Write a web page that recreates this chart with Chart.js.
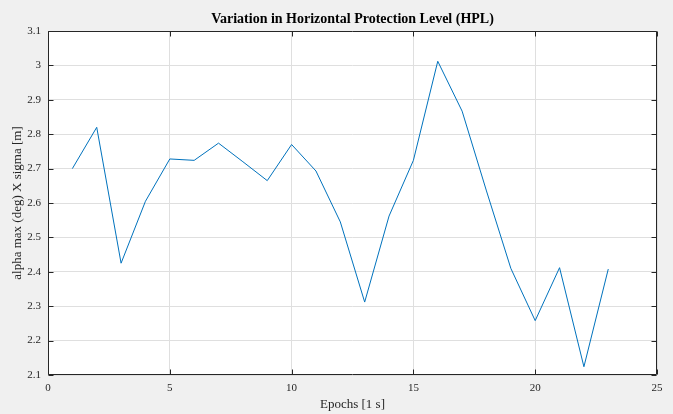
<!DOCTYPE html>
<html>
<head>
<meta charset="utf-8">
<script src="https://cdn.jsdelivr.net/npm/chart.js@4/dist/chart.umd.min.js"></script>
<style>
  html, body { margin: 0; padding: 0; background: #f0f0f0; }
  #wrap { width: 673px; height: 414px; }
</style>
</head>
<body>
<div id="wrap"><canvas id="c" width="673" height="414"></canvas></div>
<script>
const epochs = [1,2,3,4,5,6,7,8,9,10,11,12,13,14,15,16,17,18,19,20,21,22,23];
const hpl = [2.70, 2.82, 2.425, 2.605, 2.728, 2.724, 2.774, 2.72, 2.665, 2.77, 2.693, 2.545, 2.312, 2.562, 2.724, 3.012, 2.867, 2.635, 2.41, 2.258, 2.412, 2.124, 2.408];
const xTicks = [0, 5, 10, 15, 20, 25];
const yTicks = [2.1, 2.2, 2.3, 2.4, 2.5, 2.6, 2.7, 2.8, 2.9, 3.0, 3.1];
const titleText = 'Variation in Horizontal Protection Level (HPL)';
const xLabel = 'Epochs [1 s]';
const yLabel = 'alpha max (deg) X sigma [m]';

const axisColor = '#262626';
const serif = '"Liberation Serif", "Times New Roman", serif';

const frame = {
  id: 'frame',
  beforeDraw(chart) {
    const {ctx, chartArea: a} = chart;
    ctx.save();
    ctx.fillStyle = '#f0f0f0';
    ctx.fillRect(0, 0, chart.width, chart.height);
    ctx.fillStyle = '#ffffff';
    ctx.fillRect(a.left, a.top, a.right - a.left, a.bottom - a.top);
    ctx.restore();
  },
  afterDraw(chart) {
    const {ctx, chartArea: a, scales} = chart;
    ctx.save();
    ctx.strokeStyle = axisColor;
    ctx.lineWidth = 1;
    ctx.beginPath();
    const L = Math.round(a.left) + 0.5, R = Math.round(a.right) - 0.5;
    const T = Math.round(a.top) + 0.5, B = Math.round(a.bottom) - 0.5;
    ctx.rect(L, T, R - L, B - T);
    const tl = 5;
    scales.x.ticks.forEach(t => {
      const px = Math.round(scales.x.getPixelForValue(t.value)) + 0.5;
      ctx.moveTo(px, B); ctx.lineTo(px, B - tl);
      ctx.moveTo(px, T); ctx.lineTo(px, T + tl);
    });
    scales.y.ticks.forEach(t => {
      const py = Math.round(scales.y.getPixelForValue(t.value)) + 0.5;
      ctx.moveTo(L, py); ctx.lineTo(L + tl, py);
      ctx.moveTo(R, py); ctx.lineTo(R - tl, py);
    });
    ctx.stroke();
    ctx.restore();
  }
};

new Chart(document.getElementById('c'), {
  type: 'line',
  data: {
    datasets: [{
      data: epochs.map((e, i) => ({x: e, y: hpl[i]})),
      borderColor: '#0072bd',
      borderWidth: 1,
      pointRadius: 0,
      tension: 0,
      fill: false
    }]
  },
  options: {
    responsive: false,
    animation: false,
    devicePixelRatio: 1,
    layout: { padding: { left: 0, right: 16, top: 0, bottom: 0 } },
    plugins: {
      legend: { display: false },
      tooltip: { enabled: false },
      title: { display: false }
    },
    scales: {
      x: {
        type: 'linear',
        min: 0, max: 25,
        afterBuildTicks(s) { s.ticks = xTicks.map(v => ({value: v})); },
        afterFit(s) { s.height = 39; },
        grid: { color: '#dfdfdf', drawTicks: false, lineWidth: 1 },
        border: { display: false },
        ticks: { color: axisColor, padding: 7, font: { family: serif, size: 11 }, maxRotation: 0 },
        title: { display: true, text: xLabel, color: axisColor, font: { family: serif, size: 13, lineHeight: 1.2 }, padding: { top: 0, bottom: 2 } }
      },
      xTop: {
        type: 'linear',
        position: 'top',
        min: 0, max: 25,
        afterFit(s) { s.height = 31; },
        grid: { display: false, drawTicks: false },
        border: { display: false },
        ticks: { display: false },
        title: { display: true, text: titleText, color: '#000000', font: { family: serif, size: 14, weight: 'bold', lineHeight: 1.2 }, padding: { top: 10.6, bottom: 0 } }
      },
      y: {
        type: 'linear',
        min: 2.1, max: 3.1,
        afterBuildTicks(s) { s.ticks = yTicks.map(v => ({value: v})); },
        afterFit(s) { s.width = 48; },
        grid: { color: '#dfdfdf', drawTicks: false, lineWidth: 1 },
        border: { display: false },
        ticks: { color: axisColor, padding: 7, font: { family: serif, size: 11 },
                 callback: v => String(Math.round(v * 10) / 10) },
        title: { display: true, text: yLabel, color: axisColor, font: { family: serif, size: 13, lineHeight: 1.2 }, padding: { top: 10, bottom: 0 } }
      }
    }
  },
  plugins: [frame]
});
</script>
</body>
</html>
